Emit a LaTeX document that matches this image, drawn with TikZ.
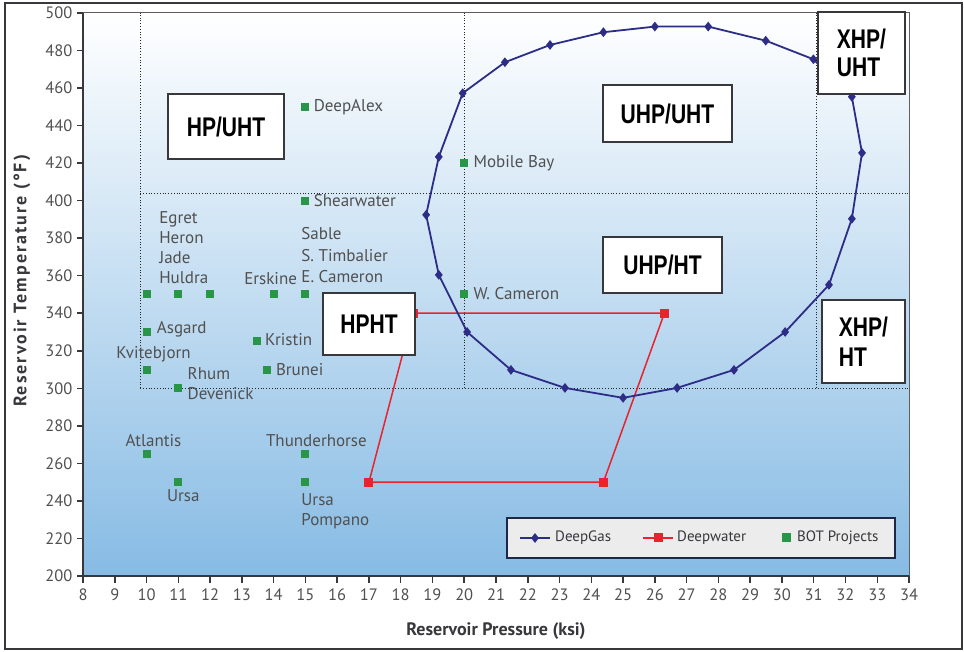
\documentclass[tikz,border=0pt]{standalone}
\usepackage{fontspec}
\setmainfont{PT Sans}
\newfontfamily\boxfont[FakeStretch=0.78]{Liberation Sans}
\usetikzlibrary{positioning,shapes.geometric}
\definecolor{gasblue}{RGB}{45,45,135}
\definecolor{waterred}{RGB}{232,35,45}
\definecolor{botgreen}{RGB}{40,150,70}
\definecolor{labgray}{RGB}{80,80,80}
\definecolor{axisgray}{RGB}{55,55,60}
\definecolor{skyblue}{RGB}{135,187,228}
\definecolor{paleblue}{RGB}{222,236,248}
\definecolor{legfill}{RGB}{236,236,236}
\definecolor{legline}{RGB}{30,40,70}
\tikzset{
  gas/.style={shape=diamond, fill=gasblue, inner sep=0pt, minimum width=8pt, minimum height=10pt},
  water/.style={shape=rectangle, fill=waterred, inner sep=0pt, minimum size=9pt},
  bot/.style={shape=rectangle, fill=botgreen, inner sep=0pt, minimum size=8pt},
  lbl/.style={text=labgray, inner sep=0pt, align=left, font=\fontsize{17}{20}\selectfont},
  leglbl/.style={text=axisgray, inner sep=0pt, anchor=west, font=\fontsize{15}{18}\selectfont},
  ticklbl/.style={text=labgray, inner sep=1pt, font=\fontsize{16.5}{18}\selectfont},
  zone/.style={draw=axisgray, line width=1.5pt, fill=white, inner sep=0pt, align=center,
    font=\boxfont\bfseries\fontsize{27}{28}\selectfont},
  zoneline/.style={black!85, line width=1pt, dash pattern=on 1pt off 1.8pt},
  axtitle/.style={text=axisgray, font=\bfseries\fontsize{18}{20}\selectfont},
}
\begin{document}
\begin{tikzpicture}[x=1pt, y=1pt]
\useasboundingbox (0,0) rectangle (964,652);
\draw[axisgray, line width=1.5pt] (5,3) rectangle (962,649);
\begin{scope}[shift={(-171.16pt,-299.4pt)}, x=31.77pt, y=1.877pt]
\shade[top color=white, middle color=paleblue, bottom color=skyblue] (8,200) rectangle (34,500);
\draw[zoneline] (9.8,300) -- (9.8,500);
\draw[zoneline] (20,300) -- (20,500);
\draw[zoneline] (31.1,300) -- (31.1,500);
\draw[zoneline] (9.8,404) -- (34,404);
\draw[zoneline] (9.8,300) -- (34,300);
\draw[axisgray!80, line width=1pt] (8,500) -- (34,500) -- (34,200);
\draw[axisgray, line width=2.5pt] (8,500) -- (8,200) -- (34,200);
\foreach \t in {200,220,...,500}
  \draw[axisgray, line width=1.5pt] (8,\t) -- ++(-6pt,0) node[ticklbl, left=3pt] (yt\t) {\t};
\foreach \p in {8,...,34}
  \draw[axisgray, line width=1.5pt] (\p,200) -- ++(0,-7pt) node[ticklbl, below=4pt] (xt\p) {\p};
\node[bot] (m10) at (10,350) {};
\node[bot] (m11) at (11,350) {};
\node[bot] (m12) at (12,350) {};
\node[bot] (m14) at (14,350) {};
\node[bot] (m15) at (15,350) {};
\node[lbl, anchor=south west] (egret) at ([xshift=-15pt, yshift=6pt]m11.north west) {Egret\\Heron\\Jade\\Huldra};
\node[lbl, anchor=south west, font=\fontsize{17}{21.5}\selectfont] (sable) at ([yshift=7pt]m15.north west) {Sable\\S. Timbalier\\E. Cameron};
\node[lbl, above=5pt of m14, xshift=-3pt] (erskine) {Erskine};
\node[bot] (deepalex) at (15,450) {};
\node[lbl, right=4pt of deepalex] (deepalexl) {DeepAlex};
\node[bot] (shear) at (15,400) {};
\node[lbl, right=4pt of shear] (shearl) {Shearwater};
\node[bot] (mobile) at (20,420) {};
\node[lbl, right=5pt of mobile] (mobilel) {Mobile Bay};
\node[bot] (wcam) at (20,350) {};
\node[lbl, right=5pt of wcam, yshift=1pt] (wcaml) {W. Cameron};
\node[bot] (asgard) at (10,330) {};
\node[lbl, right=6pt of asgard, yshift=3pt] (asgardl) {Asgard};
\node[bot] (kvite) at (10,310) {};
\node[lbl, above=3pt of kvite, xshift=7pt] (kvitel) {Kvitebjorn};
\node[bot] (rhum) at (11,300) {};
\node[lbl, right=5pt of rhum, yshift=5pt] (rhuml) {Rhum\\Devenick};
\node[bot] (kristin) at (13.47,325) {};
\node[lbl, right=4pt of kristin, yshift=2pt] (kristinl) {Kristin};
\node[bot] (brunei) at (13.78,310) {};
\node[lbl, right=5pt of brunei] (bruneil) {Brunei};
\node[bot] (atlantis) at (10,265) {};
\node[lbl, above=3pt of atlantis, xshift=7pt] (atlantisl) {Atlantis};
\node[bot] (ursa) at (11,250) {};
\node[lbl, below=3pt of ursa, xshift=5pt] (ursal) {Ursa};
\node[bot] (thunder) at (15,265) {};
\node[lbl, above=3pt of thunder, xshift=11pt] (thunderl) {Thunderhorse};
\node[bot] (ursap) at (15,250) {};
\node[lbl, anchor=north west] (ursapl) at ([yshift=-7pt]ursap.south west) {Ursa\\Pompano};
\node[water] (r1) at (17,250) {};
\node[water] (r2) at (24.38,250) {};
\node[water] (r3) at (26.3,340) {};
\node[water] (r4) at (18.4,340) {};
\draw[waterred, line width=1.5pt] (r1.center) -- (r2.center) -- (r3.center) -- (r4.center) -- cycle;
\foreach \n/\p/\t in {1/19.95/457.2, 2/21.28/473.7, 3/22.7/482.9, 4/24.38/489.7, 5/26.0/492.7,
    6/27.68/492.7, 7/29.49/485.2, 8/30.99/475.3, 9/32.2/455.3, 10/32.52/425.4, 11/32.2/390.3,
    12/31.48/355.1, 13/30.1/330, 14/28.49/309.8, 15/26.7/300.2, 16/25.0/294.9, 17/23.17/300.2,
    18/21.47/309.8, 19/20.09/330, 20/19.2/360.4, 21/18.8/392.4, 22/19.2/423.3}
  \node[gas] (g\n) at (\p,\t) {};
\draw[gasblue, line width=1.8pt] (g1.center) \foreach \n in {2,...,22} {-- (g\n.center)} -- cycle;
\end{scope}
\node[zone, minimum width=116pt, minimum height=65pt] (hpuht) at (226,525.5) {HP/UHT};
\node[zone, minimum width=129pt, minimum height=57pt] (uhpuht) at (667.5,538.5) {UHP/UHT};
\node[zone, minimum width=87pt, minimum height=82pt, align=left] (xhpuht) at (861.5,599) {XHP/\\UHT};
\node[zone, minimum width=119pt, minimum height=56pt] (uhpht) at (662.5,387) {UHP/HT};
\node[zone, minimum width=83pt, minimum height=83pt, align=left, font=\boxfont\bfseries\fontsize{27}{30}\selectfont] (xhpht) at (863.5,310.5) {XHP/\\HT};
\node[zone, minimum width=92pt, minimum height=62pt] (hpht) at (369,328) {HPHT};
\node[draw=legline, line width=2pt, fill=legfill, minimum width=388pt, minimum height=40pt] (legend) at (701,114) {};
\coordinate (dgA) at (520,114);
\coordinate (dgB) at (550,114);
\draw[gasblue, line width=1.8pt] (dgA) -- (dgB);
\node[gas] (dgM) at (535,114) {};
\node[leglbl] (dgT) at (555,114) {DeepGas};
\coordinate (dwA) at (643,114);
\coordinate (dwB) at (673,114);
\draw[waterred, line width=1.8pt] (dwA) -- (dwB);
\node[water] (dwM) at (658,114) {};
\node[leglbl] (dwT) at (677,114) {Deepwater};
\node[bot, minimum size=9pt] (btM) at (786,114) {};
\node[leglbl] (btT) at (797,114) {BOT Projects};
\node[axtitle] (xtitle) at (496,21) {Reservoir Pressure (ksi)};
\node[axtitle, rotate=90, font=\bfseries\fontsize{18}{20}\selectfont\addfontfeature{LetterSpace=11}] (ytitle) at (22,371) {Reservoir Temperature (°F)};
\end{tikzpicture}
\end{document}
